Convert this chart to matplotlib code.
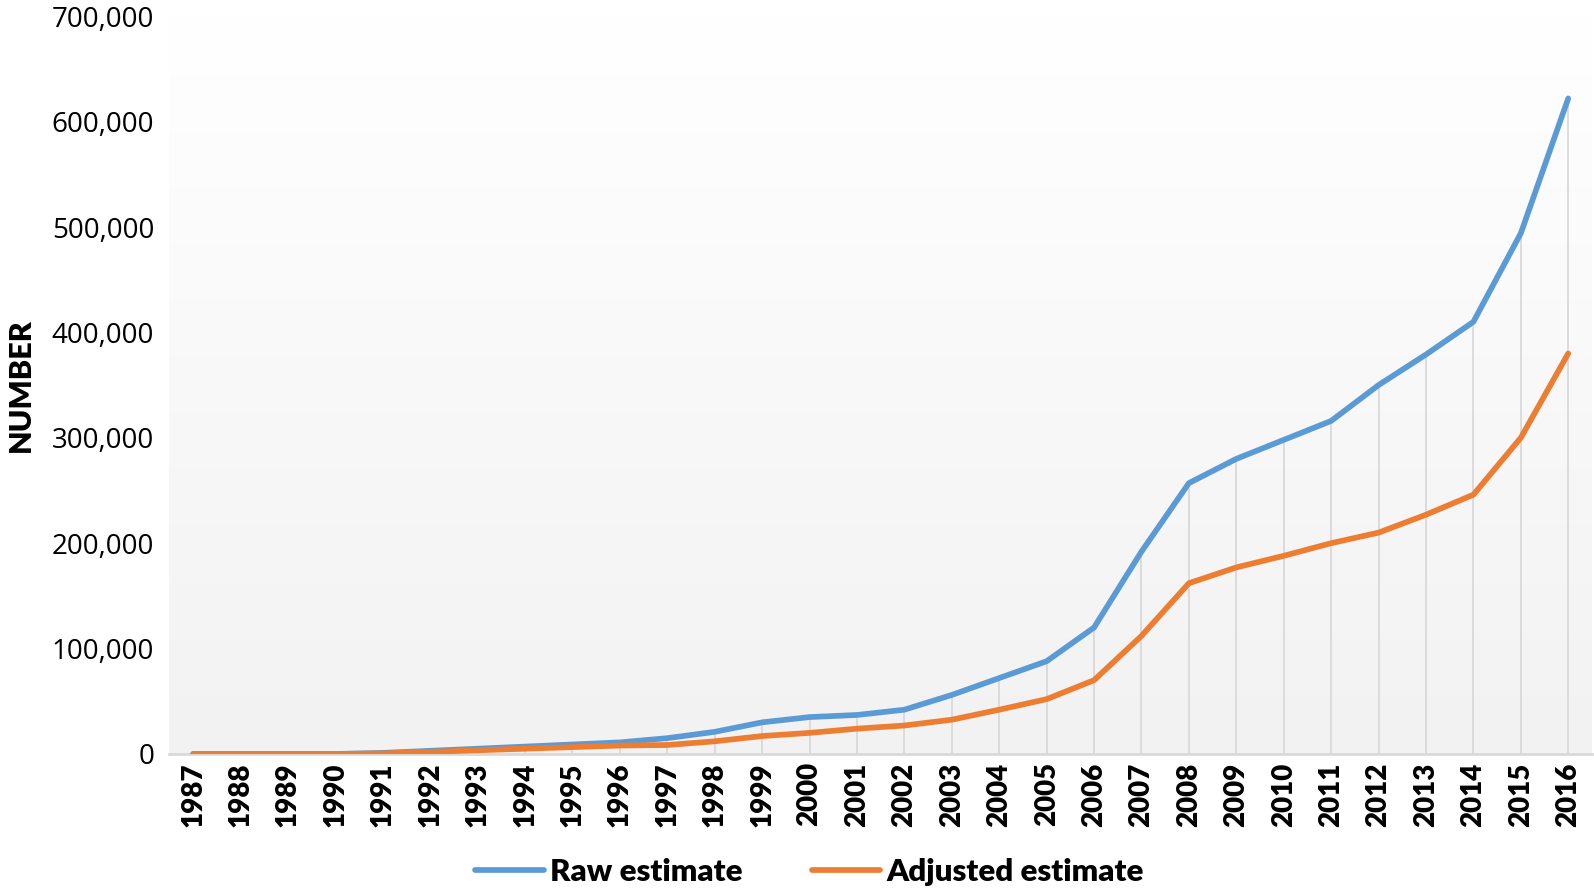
import numpy as np
import matplotlib.pyplot as plt

# Data
years = list(range(1987, 2017))
raw_estimate = [0, 0, 0, 0, 1000, 3000, 5000, 7000, 9000, 11000,
                15000, 21000, 30000, 35000, 37000, 42000, 56000, 72000, 88000, 120000,
                192000, 257000, 280000, 298000, 316000, 350000, 379000, 410000, 494000, 622000]
adjusted_estimate = [0, 0, 0, 0, 500, 2000, 3500, 5000, 6500, 8000,
                     8500, 12000, 17000, 20000, 24000, 27000, 32500, 42000, 52000, 70000,
                     112000, 162000, 177000, 188000, 200000, 210000, 227000, 246000, 300000, 380000]
yticks = [0, 100000, 200000, 300000, 400000, 500000, 600000, 700000]

fig = plt.figure(figsize=(15.94, 8.91), dpi=100)
ax = fig.add_axes([0.1063, 0.1538, 0.8924, 0.828])

x = np.arange(len(years))

# gradient background, white at top to light gray at bottom
grad = np.linspace(1.0, 0.949, 256).reshape(-1, 1)
ax.imshow(np.dstack([grad, grad, grad]), extent=[-0.5, len(years) - 0.5, 0, 700000],
          aspect='auto', origin='upper', zorder=0)

# drop lines from the highest series down to the axis
top = np.maximum(raw_estimate, adjusted_estimate)
ax.vlines(x, 0, top, color='#d9d9d9', lw=1.3, zorder=1)

ax.plot(x, raw_estimate, color='#5b9bd5', lw=4.1, label='Raw estimate',
        solid_capstyle='round', zorder=3)
ax.plot(x, adjusted_estimate, color='#ed7d31', lw=4.1, label='Adjusted estimate',
        solid_capstyle='round', zorder=3)

ax.set_xlim(-0.5, len(years) - 0.5)
ax.set_ylim(0, 700000)
ax.set_yticks(yticks)
ax.set_yticklabels([f"{v:,}" for v in yticks], fontsize=20, family='Open Sans')
ax.set_xticks(x)
ax.set_xticklabels([str(y) for y in years], rotation=90, fontsize=20,
                   fontweight='heavy', family='Lato')
ax.tick_params(axis='both', length=0)
ax.tick_params(axis='y', pad=11)
ax.tick_params(axis='x', pad=6)

for s in ['top', 'right', 'left']:
    ax.spines[s].set_visible(False)
ax.spines['bottom'].set_color('#d9d9d9')
ax.spines['bottom'].set_linewidth(2)
ax.spines['bottom'].set_zorder(2)

ax.set_ylabel('NUMBER', fontsize=22, fontweight='heavy', family='Lato')
ax.yaxis.set_label_coords(-0.1065 + 17 / 1421, 0.5)

fig.legend(loc='center', bbox_to_anchor=(0.508, 19 / 891), ncol=2, frameon=False,
           prop={'family': 'Lato', 'weight': 'heavy', 'size': 22.5},
           handlelength=2.2, handletextpad=0.2, columnspacing=2.2)

plt.savefig('out.png', dpi=100)
